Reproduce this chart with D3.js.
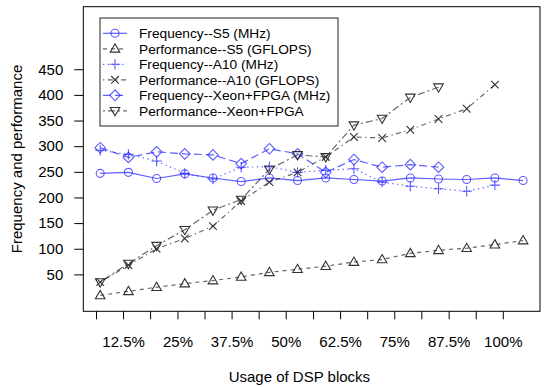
<!DOCTYPE html>
<html>
<head>
<meta charset="utf-8">
<script src="https://cdn.jsdelivr.net/npm/d3@7"></script>
<style>
  body { margin: 0; background: #fff; }
  text { font-family: "Liberation Sans", Arial, sans-serif; fill: #000; }
</style>
</head>
<body>
<div id="vis"></div>
<script>
// DSP block usage steps (1 = 6.25%, 16 = 100%)
var steps = [1, 2, 3, 4, 5, 6, 7, 8, 9, 10, 11, 12, 13, 14, 15, 16];

var freqS5 = [247, 249, 237, 246, 238, 231, 238, 233, 238, 235, 232, 238, 236, 235, 238, 233];
var perfS5 = [9, 17, 25, 32, 38, 45, 54, 60, 66, 74, 79, 91, 97, 101, 108, 116];
var freqA10 = [292, 284, 271, 247, 236, 259, 260, 249, 253, 256, 230, 222, 217, 212, 224];
var perfA10 = [35, 68, 100, 120, 144, 193, 230, 249, 279, 318, 316, 332, 353, 373, 420];
var freqXeon = [297, 278, 289, 285, 283, 266, 295, 285, 249, 274, 259, 264, 259];
var perfXeon = [35, 71, 106, 137, 175, 196, 255, 283, 279, 341, 354, 395, 415];

// x axis ticks (drawn slightly off the point grid, as in the original)
var xTickPos = [0.85, 1.81, 2.77, 3.74, 4.70, 5.66, 6.62, 7.58, 8.55, 9.51, 10.47, 11.43, 12.39, 13.36, 14.32, 15.28];
var xTickLabels = ["", "12.5%", "", "25%", "", "37.5%", "", "50%", "", "62.5%", "", "75%", "", "87.5%", "", "100%"];
var yTicks = [50, 100, 150, 200, 250, 300, 350, 400, 450];

var seriesNames = [
  "Frequency--S5 (MHz)",
  "Performance--S5 (GFLOPS)",
  "Frequency--A10 (MHz)",
  "Performance--A10 (GFLOPS)",
  "Frequency--Xeon+FPGA (MHz)",
  "Performance--Xeon+FPGA"
];

var width = 544;
var height = 387;
var box = { left: 83.3, right: 540, top: 6.7, bottom: 311.3 };

var blue = "rgba(40,40,255,0.75)";
var grey = "rgba(0,0,0,0.6)";
var dark = "#333";

// R-like point characters as custom d3 symbol types
var pch = {
  circle: { draw: function (c) { c.moveTo(4, 0); c.arc(0, 0, 4, 0, 2 * Math.PI); } },
  up: { draw: function (c) { c.moveTo(0, -5); c.lineTo(4.8, 3.3); c.lineTo(-4.8, 3.3); c.closePath(); } },
  plus: { draw: function (c) { c.moveTo(-5.2, 0); c.lineTo(5.2, 0); c.moveTo(0, -5.2); c.lineTo(0, 5.2); } },
  cross: { draw: function (c) { c.moveTo(-3.8, -3.8); c.lineTo(3.8, 3.8); c.moveTo(-3.8, 3.8); c.lineTo(3.8, -3.8); } },
  diamond: { draw: function (c) { c.moveTo(0, -5.3); c.lineTo(5.3, 0); c.lineTo(0, 5.3); c.lineTo(-5.3, 0); c.closePath(); } },
  down: { draw: function (c) { c.moveTo(0, 5); c.lineTo(4.8, -3.3); c.lineTo(-4.8, -3.3); c.closePath(); } }
};

var series = [
  { name: seriesNames[0], values: freqS5, line: blue, mark: blue, dash: null, sym: pch.circle },
  { name: seriesNames[1], values: perfS5, line: grey, mark: dark, dash: "4,4", sym: pch.up },
  { name: seriesNames[2], values: freqA10, line: blue, mark: blue, dash: "1.3,3.5", sym: pch.plus },
  { name: seriesNames[3], values: perfA10, line: grey, mark: dark, dash: "1.3,3.5,5,3.5", sym: pch.cross },
  { name: seriesNames[4], values: freqXeon, line: blue, mark: blue, dash: "8,4", sym: pch.diamond },
  { name: seriesNames[5], values: perfXeon, line: grey, mark: dark, dash: "2,3,7,3", sym: pch.down }
];

var svg = d3.select("#vis").append("svg")
  .attr("width", width)
  .attr("height", height);

// R pads the data range by 4% on each side
var x = d3.scaleLinear().domain([0.4, 16.6]).range([box.left, box.right]);
var y = d3.scaleLinear().domain([-22, 572]).range([box.bottom, box.top]);

// plot box
svg.append("rect")
  .attr("x", box.left).attr("y", box.top)
  .attr("width", box.right - box.left).attr("height", box.bottom - box.top)
  .attr("fill", "none").attr("stroke", "#000").attr("stroke-width", 1);

// x axis
var xAxis = d3.axisBottom(x)
  .tickValues(xTickPos)
  .tickSize(8)
  .tickPadding(17)
  .tickFormat(function (d, i) { return xTickLabels[i]; });

var gx = svg.append("g")
  .attr("transform", "translate(0," + box.bottom + ")")
  .call(xAxis);
gx.select(".domain").remove();
gx.selectAll("text").attr("font-size", 15).attr("font-family", "Liberation Sans, Arial, sans-serif");

// y axis
var yAxis = d3.axisLeft(y)
  .tickValues(yTicks)
  .tickSize(9)
  .tickPadding(11);

var gy = svg.append("g")
  .attr("transform", "translate(" + box.left + ",0)")
  .call(yAxis);
gy.select(".domain").remove();
gy.selectAll("text").attr("font-size", 15).attr("font-family", "Liberation Sans, Arial, sans-serif");

// axis titles
svg.append("text")
  .attr("x", (x(xTickPos[0]) + x(xTickPos[15])) / 2)
  .attr("y", 382)
  .attr("text-anchor", "middle")
  .attr("font-size", 15)
  .text("Usage of DSP blocks");

svg.append("text")
  .attr("transform", "translate(22," + (box.top + box.bottom) / 2 + ") rotate(-90)")
  .attr("text-anchor", "middle")
  .attr("font-size", 15)
  .text("Frequency and performance");

// lines and points
var line = d3.line()
  .x(function (d, i) { return x(steps[i]); })
  .y(function (d) { return y(d); });

var sg = svg.append("g").attr("class", "series");

series.forEach(function (s) {
  sg.append("path")
    .attr("d", line(s.values))
    .attr("fill", "none")
    .attr("stroke", s.line)
    .attr("stroke-width", 1.2)
    .attr("stroke-dasharray", s.dash);
});

series.forEach(function (s) {
  sg.selectAll(null)
    .data(s.values)
    .enter()
    .append("path")
    .attr("transform", function (d, i) { return "translate(" + x(steps[i]) + "," + y(d) + ")"; })
    .attr("d", d3.symbol().type(s.sym))
    .attr("fill", "none")
    .attr("stroke", s.mark)
    .attr("stroke-width", 1.1);
});

// legend
var lg = svg.append("g").attr("transform", "translate(100,18)");
lg.append("rect")
  .attr("width", 238).attr("height", 108)
  .attr("fill", "#fff").attr("stroke", "#222").attr("stroke-width", 1);

series.forEach(function (s, i) {
  var cy = 15.3 + i * 15.5;
  lg.append("line")
    .attr("x1", 3).attr("x2", 27)
    .attr("y1", cy).attr("y2", cy)
    .attr("stroke", s.line)
    .attr("stroke-width", 1.2)
    .attr("stroke-dasharray", s.dash);
  lg.append("path")
    .attr("transform", "translate(15," + cy + ")")
    .attr("d", d3.symbol().type(s.sym))
    .attr("fill", "none")
    .attr("stroke", s.mark)
    .attr("stroke-width", 1.1);
  lg.append("text")
    .attr("x", 39)
    .attr("y", cy + 5)
    .attr("font-size", 13.7)
    .text(s.name);
});
</script>
</body>
</html>
